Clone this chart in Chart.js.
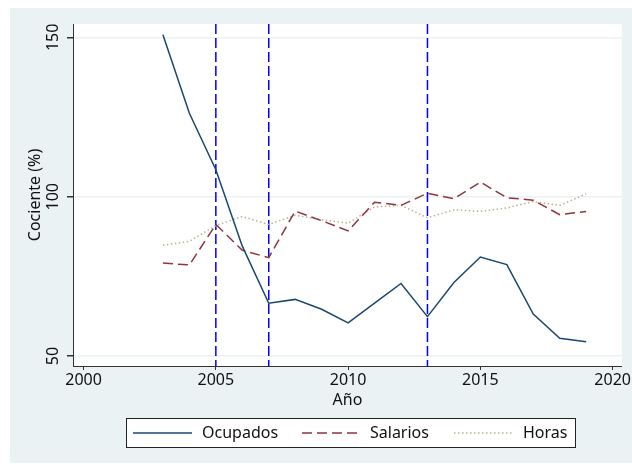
<!DOCTYPE html>
<html>
<head>
<meta charset="utf-8">
<script src="https://cdn.jsdelivr.net/npm/chart.js@4.4.0/dist/chart.umd.min.js"></script>
<style>
  html, body { margin: 0; padding: 0; background: #fff; }
  canvas { display: block; }
</style>
</head>
<body>
<canvas id="grafico" width="632" height="464"></canvas>
<script>
// datos
var years = [2003, 2004, 2005, 2006, 2007, 2008, 2009, 2010, 2011, 2012, 2013, 2014, 2015, 2016, 2017, 2018, 2019];
var ocupados = [150.8, 126.2, 108.5, 84.5, 66.6, 67.8, 64.7, 60.4, 66.6, 72.8, 62.4, 73.1, 81.1, 78.7, 63.2, 55.6, 54.5];
var salarios = [79.2, 78.6, 91.3, 83.2, 80.9, 95.5, 92.5, 89.3, 98.3, 97.3, 101.1, 99.4, 104.6, 99.7, 98.9, 94.4, 95.4];
var horas = [84.8, 86.0, 91.0, 93.8, 91.3, 94.2, 92.8, 91.7, 96.8, 97.3, 93.4, 95.9, 95.4, 96.5, 98.5, 97.3, 100.9];
var eventYears = [2005, 2007, 2013];
var xTicks = [2000, 2005, 2010, 2015, 2020];
var yTicks = [50, 100, 150];

var bg = '#eaf2f3';
var fontFam = '"Noto Sans", sans-serif';

function pts(vals) {
    return years.map(function (y, i) { return { x: y, y: vals[i] }; });
}

var series = [
    { label: 'Ocupados', color: '#1a476f', dash: [], width: 1.5 },
    { label: 'Salarios', color: '#90353b', dash: [10, 5], width: 1.5 },
    { label: 'Horas', color: '#b8b290', dash: [1.5, 2.5], width: 1.5 }
];
var values = [ocupados, salarios, horas];

var data = {
    datasets: series.map(function (s, i) {
        return {
            label: s.label,
            data: pts(values[i]),
            borderColor: s.color,
            borderWidth: s.width,
            borderDash: s.dash,
            pointRadius: 0,
            tension: 0,
            fill: false
        };
    })
};

var fondo = {
    id: 'fondo',
    beforeDraw: function (chart) {
        var c = chart.ctx, a = chart.chartArea;
        c.save();
        c.fillStyle = '#fff';
        c.fillRect(0, 0, chart.width, chart.height);
        c.fillStyle = bg;
        c.fillRect(10, 8, chart.width - 10, 455);
        c.fillStyle = '#fff';
        c.fillRect(a.left, a.top, a.right - a.left, a.bottom - a.top);
        c.restore();
    },
    beforeDatasetsDraw: function (chart) {
        var c = chart.ctx, a = chart.chartArea, xs = chart.scales.x;
        c.save();
        c.strokeStyle = '#0000ff';
        c.lineWidth = 1.5;
        c.setLineDash([10, 4]);
        eventYears.forEach(function (yr) {
            var px = xs.getPixelForValue(yr);
            c.beginPath();
            c.moveTo(px, a.top);
            c.lineTo(px, a.bottom);
            c.stroke();
        });
        c.restore();
    },
    afterDraw: function (chart) {
        var c = chart.ctx;
        c.save();
        // caja de leyenda
        c.fillStyle = '#fff';
        c.fillRect(126, 418, 449, 29);
        c.strokeStyle = '#222';
        c.lineWidth = 1;
        c.strokeRect(126.5, 418.5, 449, 29);
        var ly = 433;
        var samples = [[133, 192, 202], [302, 361, 370], [454, 514, 523]];
        c.font = '16px ' + fontFam;
        c.textBaseline = 'middle';
        series.forEach(function (s, i) {
            var p = samples[i];
            c.strokeStyle = s.color;
            c.lineWidth = s.width;
            c.setLineDash(s.dash);
            c.beginPath();
            c.moveTo(p[0], ly);
            c.lineTo(p[1], ly);
            c.stroke();
            c.setLineDash([]);
            c.fillStyle = '#111';
            c.fillText(s.label, p[2], ly);
        });
        c.restore();
    }
};

var options = {
    responsive: false,
    animation: false,
    layout: { padding: { left: 0, right: 4, top: 24, bottom: 0 } },
    plugins: { legend: { display: false }, tooltip: { enabled: false } },
    scales: {
        x: {
            type: 'linear',
            min: 1999.6,
            max: 2020.35,
            afterFit: function (s) { s.height = 98; },
            afterBuildTicks: function (s) { s.ticks = xTicks.map(function (v) { return { value: v }; }); },
            ticks: {
                color: '#111',
                font: { family: fontFam, size: 16 },
                padding: 1,
                maxRotation: 0,
                callback: function (v) { return String(v); }
            },
            grid: { drawOnChartArea: false, tickLength: 4, tickColor: '#333' },
            border: { color: '#333', width: 1 },
            title: {
                display: true,
                text: 'Año',
                color: '#111',
                font: { family: fontFam, size: 16 },
                padding: { top: 0, bottom: 54 }
            }
        },
        y: {
            min: 46.9,
            max: 154.2,
            afterFit: function (s) { s.width = 73; },
            afterBuildTicks: function (s) { s.ticks = yTicks.map(function (v) { return { value: v }; }); },
            ticks: {
                color: '#111',
                font: { family: fontFam, size: 16 },
                padding: 0,
                minRotation: 90,
                maxRotation: 90,
                crossAlign: 'center',
                callback: function (v) { return String(v); }
            },
            grid: { color: bg, lineWidth: 1.5, tickLength: 6, tickColor: '#333' },
            border: { color: '#333', width: 1 },
            title: {
                display: true,
                text: 'Cociente (%)',
                color: '#111',
                font: { family: fontFam, size: 16 },
                padding: { top: 26, bottom: 0 }
            }
        }
    }
};

var ctx = document.querySelector('#grafico').getContext('2d');
var lineChart = new Chart(ctx, {
    type: 'line',
    data: data,
    options: options,
    plugins: [fondo]
});
</script>
</body>
</html>
